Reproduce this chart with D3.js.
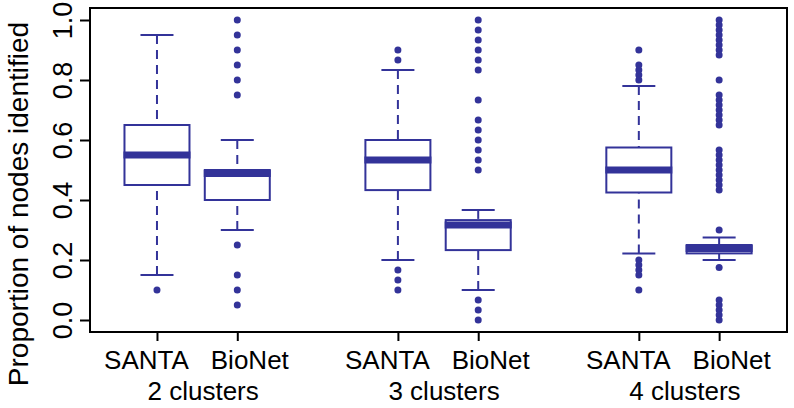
<!DOCTYPE html>
<html>
<head>
<meta charset="utf-8">
<script src="https://cdn.jsdelivr.net/npm/d3@7"></script>
<style>
  html, body { margin: 0; padding: 0; background: #fff; }
  svg { display: block; }
  text { font-family: "Liberation Sans", Arial, Helvetica, sans-serif; fill: #000; }
</style>
</head>
<body>
<svg id="chart" width="794" height="408"></svg>
<script>
// ---- data ----
const clusterLabels = ["2 clusters", "3 clusters", "4 clusters"];
const methodLabels = ["SANTA", "BioNet", "SANTA", "BioNet", "SANTA", "BioNet"];
const boxPositions = [1, 2, 4, 5, 7, 8];
const clusterPositions = [1.5, 4.5, 7.5];
const lowerWhisker = [0.15, 0.30, 0.20, 0.10, 0.222, 0.20];
const lowerQuartile = [0.45, 0.40, 0.433, 0.233, 0.425, 0.222];
const medians = [0.55, 0.488, 0.533, 0.317, 0.50, 0.238];
const upperQuartile = [0.65, 0.50, 0.60, 0.333, 0.575, 0.25];
const upperWhisker = [0.95, 0.60, 0.833, 0.367, 0.78, 0.275];
const outliers = [
  [0.10],
  [1.0, 0.95, 0.90, 0.85, 0.80, 0.75, 0.25, 0.15, 0.10, 0.05],
  [0.90, 0.867, 0.167, 0.133, 0.10],
  [1.0, 0.967, 0.933, 0.90, 0.867, 0.833, 0.733, 0.667, 0.633, 0.60, 0.567, 0.533, 0.50,
   0.067, 0.033, 0.0],
  [0.90, 0.85, 0.833, 0.817, 0.80, 0.20, 0.183, 0.167, 0.15, 0.10],
  [1.0, 0.983, 0.967, 0.95, 0.933, 0.917, 0.90, 0.883, 0.80,
   0.75, 0.733, 0.717, 0.70, 0.683, 0.667, 0.65,
   0.567, 0.55, 0.533, 0.517, 0.50, 0.483, 0.467, 0.45, 0.433,
   0.30, 0.175, 0.067, 0.05, 0.033, 0.017, 0.0]
];
const yTicks = [0, 0.2, 0.4, 0.6, 0.8, 1.0];
const yTitle = "Proportion of nodes identified";

// ---- layout ----
const svg = d3.select("#chart");
const plot = { left: 90, right: 787, top: 8, bottom: 332 };
const col = "#333399";

const x = d3.scaleLinear().domain([0.166, 8.845]).range([plot.left, plot.right]);
const y = d3.scaleLinear().domain([-0.04, 1.04]).range([plot.bottom, plot.top]);

const boxW = 65, capW = 33;

const boxes = boxPositions.map((p, i) => ({
  p, lw: lowerWhisker[i], q1: lowerQuartile[i], med: medians[i],
  q3: upperQuartile[i], uw: upperWhisker[i], out: outliers[i]
}));

const g = svg.append("g");
const bg = g.selectAll("g.box").data(boxes).join("g").attr("class", "box");

// whiskers (dashed)
bg.append("line")
  .attr("x1", d => x(d.p)).attr("x2", d => x(d.p))
  .attr("y1", d => y(d.uw)).attr("y2", d => y(d.q3))
  .attr("stroke", col).attr("stroke-width", 2).attr("stroke-dasharray", "9,6");
bg.append("line")
  .attr("x1", d => x(d.p)).attr("x2", d => x(d.p))
  .attr("y1", d => y(d.lw)).attr("y2", d => y(d.q1))
  .attr("stroke", col).attr("stroke-width", 2).attr("stroke-dasharray", "9,6");
// caps
bg.append("line")
  .attr("x1", d => x(d.p) - capW / 2).attr("x2", d => x(d.p) + capW / 2)
  .attr("y1", d => y(d.uw)).attr("y2", d => y(d.uw))
  .attr("stroke", col).attr("stroke-width", 2);
bg.append("line")
  .attr("x1", d => x(d.p) - capW / 2).attr("x2", d => x(d.p) + capW / 2)
  .attr("y1", d => y(d.lw)).attr("y2", d => y(d.lw))
  .attr("stroke", col).attr("stroke-width", 2);
// box
bg.append("rect")
  .attr("x", d => x(d.p) - boxW / 2).attr("width", boxW)
  .attr("y", d => y(d.q3)).attr("height", d => y(d.q1) - y(d.q3))
  .attr("fill", "#fff").attr("stroke", col).attr("stroke-width", 2);
// median
bg.append("line")
  .attr("x1", d => x(d.p) - boxW / 2 - 1).attr("x2", d => x(d.p) + boxW / 2 + 1)
  .attr("y1", d => y(d.med)).attr("y2", d => y(d.med))
  .attr("stroke", col).attr("stroke-width", 7);
// outliers
bg.selectAll("circle").data(d => d.out.map(v => ({ p: d.p, v }))).join("circle")
  .attr("cx", d => x(d.p)).attr("cy", d => y(d.v)).attr("r", 3.5)
  .attr("fill", col);

// ---- frame ----
svg.append("rect")
  .attr("x", plot.left).attr("y", plot.top)
  .attr("width", plot.right - plot.left).attr("height", plot.bottom - plot.top)
  .attr("fill", "none").attr("stroke", "#000").attr("stroke-width", 2);

// ---- y axis ----
const yAxis = svg.append("g").attr("transform", `translate(${plot.left},0)`)
  .call(d3.axisLeft(y).tickValues(yTicks).tickFormat(d3.format(".1f")).tickSize(10).tickPadding(0));
yAxis.select(".domain").remove();
yAxis.selectAll(".tick line").attr("stroke", "#000").attr("stroke-width", 2);
yAxis.selectAll(".tick text")
  .attr("font-size", 27)
  .attr("text-anchor", "middle")
  .attr("x", 0).attr("dy", 0)
  .attr("transform", "translate(-18,0) rotate(-90)");

// ---- x axis ----
const xAxis = svg.append("g").attr("transform", `translate(0,${plot.bottom})`)
  .call(d3.axisBottom(x).tickValues(boxPositions).tickFormat((d, i) => methodLabels[i]).tickSize(9).tickPadding(4));
xAxis.select(".domain").remove();
xAxis.selectAll(".tick line").attr("stroke", "#000").attr("stroke-width", 2);
xAxis.selectAll(".tick text").attr("font-size", 26).attr("dy", 0).attr("y", 37)
  .attr("x", (d, i) => (i % 2 === 0 ? -11 : 12));

svg.append("g").selectAll("text").data(clusterLabels).join("text")
  .attr("x", (d, i) => x(clusterPositions[i]) + 6).attr("y", 400)
  .attr("text-anchor", "middle").attr("font-size", 26)
  .text(d => d);

// ---- y title ----
svg.append("text")
  .attr("transform", `translate(28,${(plot.top + plot.bottom) / 2 + 34}) rotate(-90)`)
  .attr("text-anchor", "middle").attr("font-size", 28)
  .text(yTitle);
</script>
</body>
</html>
